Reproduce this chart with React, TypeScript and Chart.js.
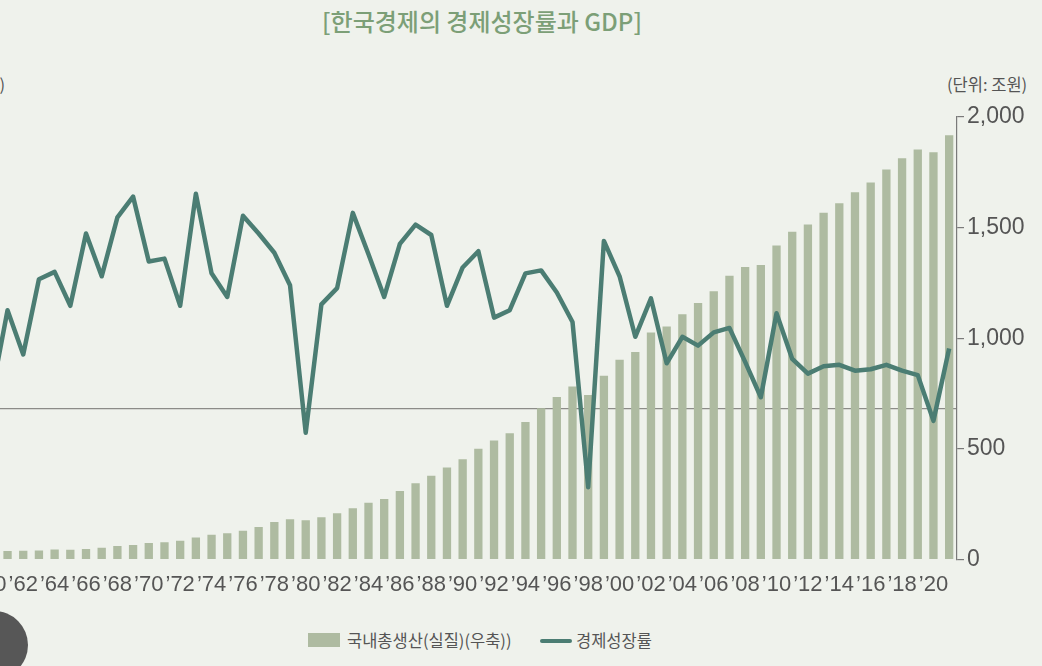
import { useEffect, useRef } from "react"
import { Chart, registerables } from "chart.js"

Chart.register(...registerables)

// 연도 (1960 ~ 2021)
const years = [
  "1960", "1961", "1962", "1963", "1964", "1965", "1966", "1967", "1968", "1969",
  "1970", "1971", "1972", "1973", "1974", "1975", "1976", "1977", "1978", "1979",
  "1980", "1981", "1982", "1983", "1984", "1985", "1986", "1987", "1988", "1989",
  "1990", "1991", "1992", "1993", "1994", "1995", "1996", "1997", "1998", "1999",
  "2000", "2001", "2002", "2003", "2004", "2005", "2006", "2007", "2008", "2009",
  "2010", "2011", "2012", "2013", "2014", "2015", "2016", "2017", "2018", "2019",
  "2020", "2021",
]

// 국내총생산(실질), 조원 - 우축
const gdp = [
  36, 38, 39, 41, 45, 44, 48, 53, 61, 66,
  75, 78, 85, 99, 112, 119, 130, 147, 170, 182,
  177, 191, 209, 232, 257, 274, 310, 345, 379, 416,
  453, 501, 538, 571, 621, 684, 734, 782, 744, 830,
  903, 938, 1026, 1053, 1108, 1159, 1212, 1283, 1322, 1331,
  1419, 1481, 1514, 1567, 1610, 1660, 1704, 1763, 1814, 1853,
  1841, 1918,
]

// 경제성장률, % - 좌축
const growth = [
  1.1, 6.7, 3.7, 8.8, 9.3, 7.0, 11.9, 9.0, 13.0, 14.4,
  10.0, 10.2, 7.0, 14.6, 9.2, 7.6, 13.1, 11.9, 10.6, 8.4,
  -1.6, 7.1, 8.2, 13.3, 10.5, 7.6, 11.2, 12.5, 11.8, 7.0,
  9.6, 10.7, 6.2, 6.7, 9.2, 9.4, 7.9, 5.9, -5.3, 11.4,
  9.0, 4.9, 7.5, 3.1, 4.9, 4.3, 5.2, 5.5, 3.2, 0.8,
  6.5, 3.4, 2.4, 2.9, 3.0, 2.6, 2.7, 3.0, 2.6, 2.3,
  -0.8, 4.1,
]

const gdpTicks = [0, 500, 1000, 1500, 2000]

const BG = "#eff2ec"
const BAR = "#aebba1"
const LINE = "#4b7d73"
const TEXT = "#555555"
const numFont = '"Liberation Sans Narrow", "Liberation Sans", sans-serif'
const krFont = '"Noto Sans CJK KR", "Noto Sans", sans-serif'

export default function App() {
  const chartRef = useRef<HTMLCanvasElement | null>(null)

  useEffect(() => {
    document.body.style.margin = "0"
    document.body.style.background = BG
    if (!chartRef.current) return
    const ctx = chartRef.current.getContext("2d")
    if (!ctx) return

    const chart = new Chart(ctx, {
      type: "bar",
      data: {
        labels: years,
        datasets: [
          {
            type: "line",
            label: "경제성장률",
            data: growth,
            yAxisID: "rate",
            borderColor: LINE,
            borderWidth: 4.5,
            borderJoinStyle: "round",
            pointRadius: 0,
            tension: 0,
            order: 0,
          },
          {
            type: "bar",
            label: "국내총생산(실질)(우축))",
            data: gdp,
            yAxisID: "gdp",
            backgroundColor: BAR,
            barPercentage: 0.53,
            categoryPercentage: 1,
            order: 1,
          },
        ],
      },
      options: {
        animation: false,
        responsive: true,
        maintainAspectRatio: false,
        layout: { padding: { top: 117, left: 0, right: 0, bottom: 0 } },
        plugins: {
          legend: { display: false },
          tooltip: { enabled: false },
        },
        scales: {
          x: {
            offset: true,
            grid: { display: false },
            border: { display: false },
            ticks: {
              autoSkip: false,
              maxRotation: 0,
              minRotation: 0,
              padding: 4,
              color: TEXT,
              font: { family: numFont, size: 22 },
              callback: (_v: any, i: number) =>
                i % 2 === 0 ? "\u2019" + years[i].slice(2) : "",
            },
            afterFit: (s: any) => {
              s.height = 40.5
              s.paddingLeft = 0
              s.paddingRight = 0
            },
          },
          gdp: {
            position: "right",
            min: 0,
            max: 2000,
            afterBuildTicks: (s: any) => {
              s.ticks = gdpTicks.map((v) => ({ value: v }))
            },
            afterFit: (s: any) => {
              s.width = 85
            },
            grid: {
              drawOnChartArea: false,
              drawTicks: true,
              tickLength: 7,
              color: "#7a7a7a",
              lineWidth: 1.2,
            },
            border: { display: true, color: "#7a7a7a", width: 1.2 },
            ticks: {
              padding: 3,
              color: TEXT,
              font: { family: numFont, size: 23 },
              callback: (v: any) => Number(v).toLocaleString("en-US"),
            },
          },
          rate: {
            position: "left",
            min: -10.2,
            max: 19.8,
            afterBuildTicks: (s: any) => {
              s.ticks = [{ value: 0 }]
            },
            afterFit: (s: any) => {
              s.width = 0
            },
            ticks: { display: false },
            border: { display: false },
            grid: { drawTicks: false, color: "#8c8c88", lineWidth: 1.3 },
          },
        },
      },
    })

    return () => {
      chart.destroy()
    }
  }, [])

  const krText = { position: "absolute" as const, fontFamily: krFont, whiteSpace: "nowrap" as const }

  return (
    <div style={{ position: "relative", width: 1042, height: 666, overflow: "hidden", background: BG }}>
      <div
        style={{
          ...krText,
          left: 0,
          width: 964,
          top: 7,
          textAlign: "center",
          fontSize: 24,
          lineHeight: "28px",
          fontWeight: 500,
          color: "#7c9f77",
        }}
      >
        [한국경제의 경제성장률과 GDP]
      </div>

      <div style={{ ...krText, right: 1037, top: 74, fontSize: 16.5, lineHeight: "20px", color: TEXT }}>
        (단위: %)
      </div>
      <div style={{ ...krText, left: 947, top: 74, fontSize: 16.5, lineHeight: "20px", color: TEXT }}>
        (단위: 조원)
      </div>

      <div style={{ position: "absolute", left: -16, top: 0, width: 1058, height: 600 }}>
        <canvas ref={chartRef}></canvas>
      </div>

      <div style={{ position: "absolute", left: 308, top: 633, width: 32, height: 14, background: BAR }} />
      <div style={{ ...krText, left: 347, top: 630, fontSize: 16.5, lineHeight: "20px", color: TEXT }}>
        국내총생산(실질)(우축))
      </div>
      <div
        style={{
          position: "absolute",
          left: 540,
          top: 639,
          width: 32,
          height: 4,
          borderRadius: 2,
          background: LINE,
        }}
      />
      <div style={{ ...krText, left: 576, top: 630, fontSize: 16.5, lineHeight: "20px", color: TEXT }}>
        경제성장률
      </div>

      <div
        style={{
          position: "absolute",
          left: -40,
          top: 611,
          width: 68,
          height: 68,
          borderRadius: "50%",
          background: "#575757",
        }}
      />
    </div>
  )
}
